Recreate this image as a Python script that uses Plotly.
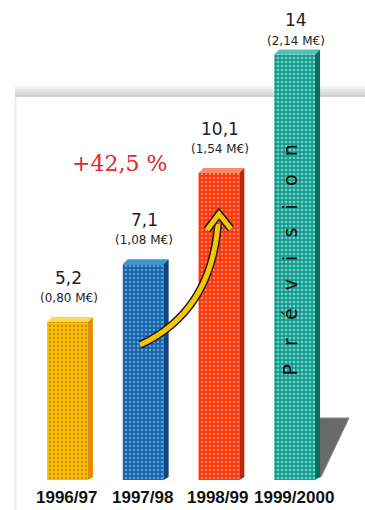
import plotly.graph_objects as go

# ---- data ----
categories = ["1996/97", "1997/98", "1998/99", "1999/2000"]
values = [5.2, 7.1, 10.1, 14]
value_labels = ["5,2", "7,1", "10,1", "14"]
euro_labels = ["(0,80 M€)", "(1,08 M€)", "(1,54 M€)", "(2,14 M€)"]
growth_label = "+42,5 %"
forecast_label = "Prévision"

# ---- styles ----
front_colors = ["#ffbb00", "#1768ae", "#ff3a0e", "#0f9e8f"]
side_colors = ["#e08e00", "#0c467c", "#b92a0c", "#086c62"]
top_colors = ["#ffd650", "#3a98d4", "#ff8a6a", "#52c0b2"]
dot_colors = ["#f5a800", "#125ea0", "#ef3409", "#0a6f66"]
dot_solidity = [0.2, 0.2, 0.2, 0.3]

W, H = 365, 510
MB = 30
X0PX, XSTEP = 67.5, 75.7
YPX = 30.4  # px per unit
x_range = [(0 - X0PX) / XSTEP, (W - X0PX) / XSTEP]
y_range = [0, (H - MB) / YPX]

def px2x(px):
    return (px - X0PX) / XSTEP

def py2y(py):
    return (H - MB - py) / YPX

bar_w = 0.54
dx = 5 / XSTEP
dy = 5 / YPX

xs = list(range(len(categories)))

fig = go.Figure()

shapes = []
for a, b, c in [(86, 89, "#f2f2f2"), (89, 92, "#e6e6e6"), (92, 95, "#dadada"), (95, 97, "#cfcfcf")]:
    shapes.append(dict(type="rect", xref="paper", yref="paper", x0=15 / W, x1=1,
                       y0=(H - MB - b) / (H - MB), y1=(H - MB - a) / (H - MB),
                       fillcolor=c, line_width=0, layer="below"))
shapes.append(dict(type="line", xref="paper", yref="paper", x0=15.5 / W, x1=15.5 / W,
                   y0=(H - MB - 97) / (H - MB), y1=-MB / (H - MB),
                   line=dict(color="#ececec", width=2), layer="below"))

# shadow behind last bar
sx = [px2x(319), px2x(349), px2x(321), px2x(319)]
sy = [py2y(418), py2y(418), py2y(477), py2y(477)]
shapes.append(dict(type="path", xref="x", yref="y",
                   path=f"M{sx[0]},{sy[0]} L{sx[1]},{sy[1]} L{sx[2]},{sy[2]} L{sx[3]},{sy[3]} Z",
                   fillcolor="#6a6a6a", line=dict(color="#8a8a8a", width=1), layer="below"))

fig.add_trace(go.Bar(
    x=xs, y=values, width=bar_w,
    marker=dict(color=front_colors, line_width=0,
                pattern=dict(shape=".", fgcolor=dot_colors, size=4, solidity=dot_solidity, fillmode="overlay")),
    hoverinfo="skip", showlegend=False,
))

for i, v in enumerate(values):
    xl = i - bar_w / 2
    xr = i + bar_w / 2
    shapes.append(dict(type="path", xref="x", yref="y",
                       path=f"M{xl},{v} L{xl+dx},{v+dy} L{xr+dx},{v+dy} L{xr},{v} Z",
                       fillcolor=top_colors[i], line_width=0, layer="above"))
    shapes.append(dict(type="path", xref="x", yref="y",
                       path=f"M{xr},{v} L{xr+dx},{v+dy} L{xr+dx},{dy*0.6} L{xr},0 Z",
                       fillcolor=side_colors[i], line_width=0, layer="above"))

# curved arrow (decoration)
p0 = (px2x(140), py2y(345))
pc = (px2x(211), py2y(312))
p1 = (px2x(218), py2y(224))
curve = f"M{p0[0]},{p0[1]} Q{pc[0]},{pc[1]} {p1[0]},{p1[1]}"
shapes.append(dict(type="path", xref="x", yref="y", path=curve,
                   line=dict(color="#1a1a1a", width=8), layer="above"))
shapes.append(dict(type="path", xref="x", yref="y", path=curve,
                   line=dict(color="#f7c600", width=5), layer="above"))
ha = (px2x(207), py2y(230))
ht = (px2x(219), py2y(214))
hb = (px2x(231), py2y(229))
head = f"M{ha[0]},{ha[1]} L{ht[0]},{ht[1]} L{hb[0]},{hb[1]}"
shapes.append(dict(type="path", xref="x", yref="y", path=head,
                   line=dict(color="#1a1a1a", width=8), layer="above"))
shapes.append(dict(type="path", xref="x", yref="y", path=head,
                   line=dict(color="#f7c600", width=5), layer="above"))

annotations = []
n = len(values)
for i, v in enumerate(values):
    last = (i == n - 1)
    annotations.append(dict(x=i, y=v, xref="x", yref="y", text=value_labels[i], showarrow=False,
                            yshift=34 if last else 44, xshift=1,
                            font=dict(family="DejaVu Sans", size=17, color="#1e1e1e")))
    annotations.append(dict(x=i, y=v, xref="x", yref="y", text=euro_labels[i], showarrow=False,
                            yshift=13 if last else 24, xshift=1,
                            font=dict(family="DejaVu Sans", size=12, color="#1e1e1e")))
    annotations.append(dict(x=i, y=0, xref="x", yref="y", text=categories[i], showarrow=False,
                            yanchor="middle", yshift=-17, xshift=-1,
                            font=dict(family="Liberation Sans, Arial", size=17, color="#111111",
                                      weight="bold")))

annotations.append(dict(x=px2x(119), y=py2y(163), xref="x", yref="y", text=growth_label,
                        showarrow=False,
                        font=dict(family="DejaVu Serif", size=22, color="#e3262e")))

spaced = "\u00a0\u00a0\u00a0".join(list(forecast_label))
annotations.append(dict(x=n - 1, y=py2y(260), xref="x", yref="y", text=spaced, showarrow=False,
                        textangle=-90, xshift=-5,
                        font=dict(family="DejaVu Sans", size=19, color="#111111")))

fig.update_layout(
    width=W, height=H,
    margin=dict(l=0, r=0, t=0, b=MB, autoexpand=False),
    paper_bgcolor="white", plot_bgcolor="rgba(0,0,0,0)",
    shapes=shapes, annotations=annotations,
    xaxis=dict(range=x_range, showticklabels=False, showgrid=False, zeroline=False,
               showline=False, ticks="", fixedrange=True, automargin=False),
    yaxis=dict(range=y_range, visible=False, fixedrange=True, automargin=False),
    showlegend=False,
)

fig.write_html("out.html")
